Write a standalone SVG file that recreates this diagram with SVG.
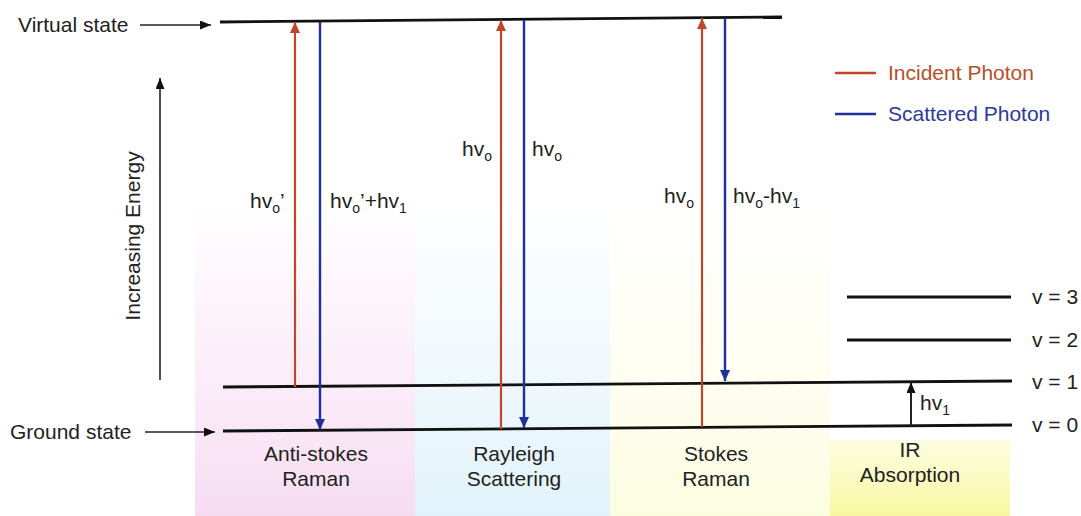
<svg xmlns="http://www.w3.org/2000/svg" width="1081" height="516" viewBox="0 0 1081 516">
<style>
text{font-family:"Liberation Sans",Arial,sans-serif;fill:#222;}
.lbl{font-size:21px;}
.sub{font-size:14px;}
.lvl{stroke:#111;stroke-width:2.8;fill:none;}
.red{stroke:#c0462a;stroke-width:2.2;fill:none;}
.blue{stroke:#1f2f9c;stroke-width:2.4;fill:none;}
.blk{stroke:#222;stroke-width:1.6;fill:none;}
</style>
<defs>
<marker id="ahR" markerUnits="userSpaceOnUse" markerWidth="12" markerHeight="12" refX="11" refY="5" orient="auto"><path d="M0,0 L11,5 L0,10 Z" fill="#c0462a"/></marker>
<marker id="ahB" markerUnits="userSpaceOnUse" markerWidth="12" markerHeight="12" refX="11" refY="5" orient="auto"><path d="M0,0 L11,5 L0,10 Z" fill="#1f2f9c"/></marker>
<marker id="ahK" markerUnits="userSpaceOnUse" markerWidth="12" markerHeight="12" refX="11" refY="4.5" orient="auto"><path d="M0,0 L11,4.5 L0,9 Z" fill="#111"/></marker>
<linearGradient id="gP" x1="0" y1="0" x2="0" y2="1"><stop offset="0" stop-color="#f7dcf2" stop-opacity="0"/><stop offset="0.6" stop-color="#f7dcf2" stop-opacity="0.55"/><stop offset="1" stop-color="#f5d8f0" stop-opacity="0.9"/></linearGradient>
<linearGradient id="gB" x1="0" y1="0" x2="0" y2="1"><stop offset="0" stop-color="#e0f2fa" stop-opacity="0"/><stop offset="0.6" stop-color="#e0f2fa" stop-opacity="0.55"/><stop offset="1" stop-color="#def1fa" stop-opacity="0.9"/></linearGradient>
<linearGradient id="gY" x1="0" y1="0" x2="0" y2="1"><stop offset="0" stop-color="#fdfde4" stop-opacity="0"/><stop offset="0.6" stop-color="#fdfde4" stop-opacity="0.55"/><stop offset="1" stop-color="#fcfcdc" stop-opacity="0.9"/></linearGradient>
<linearGradient id="gY2" x1="0" y1="0" x2="0" y2="1"><stop offset="0" stop-color="#fbfbc0" stop-opacity="0.5"/><stop offset="1" stop-color="#f8f79e"/></linearGradient>
</defs>
<g id="background">
<rect x="195" y="200" width="220" height="316" fill="url(#gP)"/>
<rect x="415" y="200" width="195" height="316" fill="url(#gB)"/>
<rect x="610" y="200" width="220" height="316" fill="url(#gY)"/>
<rect x="830" y="440" width="180" height="76" fill="url(#gY2)"/>
</g>
<g id="levels">
<line class="lvl" x1="220" y1="22" x2="782" y2="17"/>
<line class="lvl" x1="223" y1="387" x2="1012" y2="381"/>
<line class="lvl" x1="223" y1="431" x2="1012" y2="425"/>
<line class="lvl" x1="847" y1="297" x2="1011" y2="297"/>
<line class="lvl" x1="847" y1="340" x2="1011" y2="340"/>
</g>
<g id="connectors">
<line class="blk" x1="140" y1="25" x2="211" y2="25" marker-end="url(#ahK)"/>
<line class="blk" x1="145" y1="432" x2="215" y2="432" marker-end="url(#ahK)"/>
<line class="blk" x1="160" y1="380" x2="160" y2="78" marker-end="url(#ahK)"/>
<line class="red" x1="295" y1="387" x2="295" y2="22" marker-end="url(#ahR)"/>
<line class="blue" x1="320" y1="22" x2="320" y2="430" marker-end="url(#ahB)"/>
<line class="red" x1="501" y1="429" x2="501" y2="20" marker-end="url(#ahR)"/>
<line class="blue" x1="524" y1="20" x2="524" y2="428" marker-end="url(#ahB)"/>
<line class="red" x1="702" y1="427" x2="702" y2="18" marker-end="url(#ahR)"/>
<line class="blue" x1="725" y1="18" x2="725" y2="381" marker-end="url(#ahB)"/>
<line class="blk" x1="911" y1="426" x2="911" y2="382" marker-end="url(#ahK)" style="stroke-width:2"/>
<line x1="835" y1="73" x2="876" y2="73" stroke="#c0462a" stroke-width="2.5"/>
<line x1="835" y1="114" x2="876" y2="114" stroke="#1f2f9c" stroke-width="2.5"/>
</g>
<g id="legend">
<text class="lbl" x="888" y="80" style="fill:#b5502a">Incident Photon</text>
<text class="lbl" x="888" y="121" style="fill:#2b3a9e">Scattered Photon</text>
</g>
<g id="side-labels">
<text class="lbl" x="18" y="32">Virtual state</text>
<text class="lbl" x="10" y="439">Ground state</text>
<text class="lbl" transform="translate(140,236) rotate(-90)" text-anchor="middle">Increasing Energy</text>
</g>
<g id="photon-labels">
<text class="lbl" x="250" y="208">hv<tspan class="sub" dy="5">o</tspan><tspan dy="-5">’</tspan></text>
<text class="lbl" x="330" y="208">hv<tspan class="sub" dy="5">o</tspan><tspan dy="-5">’+hv</tspan><tspan class="sub" dy="5">1</tspan></text>
<text class="lbl" x="462" y="156">hv<tspan class="sub" dy="5">o</tspan></text>
<text class="lbl" x="532" y="156">hv<tspan class="sub" dy="5">o</tspan></text>
<text class="lbl" x="664" y="203">hv<tspan class="sub" dy="5">o</tspan></text>
<text class="lbl" x="733" y="203">hv<tspan class="sub" dy="5">o</tspan><tspan dy="-5">-hv</tspan><tspan class="sub" dy="5">1</tspan></text>
<text class="lbl" x="920" y="410">hv<tspan class="sub" dy="5">1</tspan></text>
</g>
<g id="v-labels">
<text class="lbl" x="1032" y="304">v = 3</text>
<text class="lbl" x="1032" y="347">v = 2</text>
<text class="lbl" x="1032" y="389">v = 1</text>
<text class="lbl" x="1032" y="432">v = 0</text>
</g>
<g id="process-labels" text-anchor="middle">
<text class="lbl" x="316" y="461">Anti-stokes</text>
<text class="lbl" x="316" y="486">Raman</text>
<text class="lbl" x="514" y="461">Rayleigh</text>
<text class="lbl" x="514" y="486">Scattering</text>
<text class="lbl" x="716" y="461">Stokes</text>
<text class="lbl" x="716" y="486">Raman</text>
<text class="lbl" x="910" y="457">IR</text>
<text class="lbl" x="910" y="482">Absorption</text>
</g>
</svg>
